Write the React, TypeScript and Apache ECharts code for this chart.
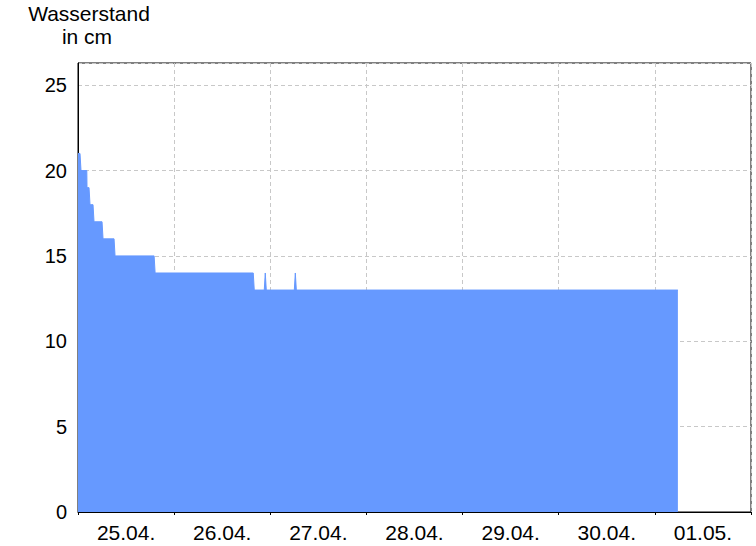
import React, { useEffect, useRef } from "react";
import * as echarts from "echarts";

// Day labels (category axis, one band per day)
const dayLabels = ["25.04.", "26.04.", "27.04.", "28.04.", "29.04.", "30.04.", "01.05."];
// Water level samples: hours since 25.04. 00:00
const hours = [0, 0.5, 0.75, 2.2, 2.25, 2.75, 3, 3.75, 4, 6, 6.25, 9, 9.25, 19, 19.25, 43.75, 44, 46.5, 46.75, 47, 54, 54.25, 54.5, 149.75];
const levels = [21, 21, 20, 20, 19, 19, 18, 18, 17, 17, 16, 16, 15, 15, 14, 14, 13, 13, 14, 13, 13, 14, 13, 13];
const yTicks = { min: 0, max: 26.3, interval: 5 };
const titleLines = ["Wasserstand", "in cm"];

export default function App() {
  const ref = useRef<HTMLDivElement>(null);
  useEffect(() => {
    if (!ref.current) return;
    const chart = echarts.init(ref.current, undefined, { renderer: "svg" });
    const font = "'Liberation Sans', Arial, sans-serif";
    chart.setOption({
      animation: false,
      grid: {
        left: 78,
        top: 63,
        right: 5,
        bottom: 34,
        show: true,
        borderColor: "#000",
        borderWidth: 1,
        backgroundColor: "transparent",
      },
      graphic: [
        {
          type: "text",
          x: 89,
          y: 13,
          style: { text: titleLines[0], font: `21px ${font}`, fill: "#000", textAlign: "center", textVerticalAlign: "middle" },
        },
        {
          type: "text",
          x: 87,
          y: 36,
          style: { text: titleLines[1], font: `21px ${font}`, fill: "#000", textAlign: "center", textVerticalAlign: "middle" },
        },
      ],
      xAxis: [
        {
          type: "category",
          data: dayLabels,
          boundaryGap: true,
          axisLine: { show: true, lineStyle: { color: "#000", width: 1 } },
          axisTick: { show: true, length: 3, lineStyle: { color: "#000" } },
          axisLabel: { interval: 0, color: "#000", fontSize: 21, fontFamily: font, margin: 10 },
          splitLine: { show: true, lineStyle: { color: "#c8c8c8", type: [4, 3], width: 1 } },
        },
        {
          type: "value",
          min: 0,
          max: 168,
          show: false,
        },
      ],
      yAxis: {
        type: "value",
        min: yTicks.min,
        max: yTicks.max,
        interval: yTicks.interval,
        axisLine: { show: true, lineStyle: { color: "#000" } },
        axisTick: { show: false },
        axisLabel: { color: "#000", fontSize: 20, fontFamily: font, margin: 11, showMaxLabel: false },
        splitLine: { show: true, lineStyle: { color: "#c8c8c8", type: [4, 3], width: 1 } },
      },
      series: [
        {
          type: "line",
          xAxisIndex: 1,
          data: hours.map((h, i) => [h, levels[i]]),
          showSymbol: false,
          symbol: "none",
          lineStyle: { color: "#6699ff", width: 1 },
          areaStyle: { color: "#6699ff", opacity: 1 },
          z: 1,
        },
      ],
    });
    return () => chart.dispose();
  }, []);
  return <div ref={ref} style={{ position: "absolute", left: 0, top: 0, width: 756, height: 546 }} />;
}
